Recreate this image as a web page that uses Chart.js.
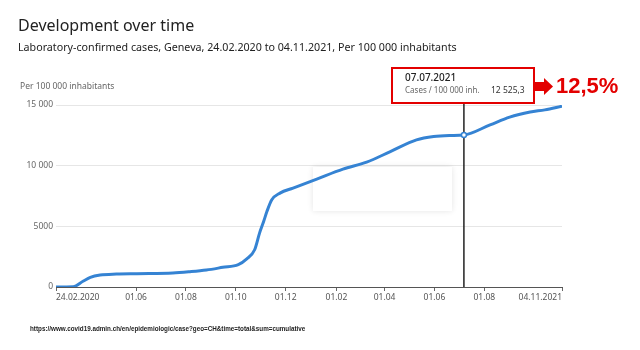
<!DOCTYPE html>
<html>
<head>
<meta charset="utf-8">
<script src="https://cdn.jsdelivr.net/npm/chart.js@4.4.1/dist/chart.umd.min.js"></script>
<style>
  body { margin: 0; background: #fff; }
  canvas { display: block; }
</style>
</head>
<body>
<canvas id="chart" width="640" height="350"></canvas>
<script>
// days since 24.02.2020 and cumulative cases per 100 000 inhabitants
const dayOffsets = [0, 21, 33, 42, 54, 74, 99, 143, 164, 184, 204, 223, 233, 243, 249, 254, 258, 264, 274, 290, 319, 351, 380, 409, 441, 462, 482, 499, 531, 555, 580, 598, 619];
const casesPer100k = [0, 20, 470, 800, 990, 1070, 1100, 1150, 1260, 1400, 1620, 1840, 2300, 3070, 4440, 5400, 6220, 7190, 7740, 8150, 8890, 9710, 10290, 11160, 12120, 12400, 12480, 12525.3, 13360, 14000, 14420, 14600, 14900];

const tickDays = [0, 98, 159, 220, 281, 343, 402, 463, 524, 619];
const tickLabels = ["24.02.2020", "01.06", "01.08", "01.10", "01.12", "01.02", "01.04", "01.06", "01.08", "04.11.2021"];
const yTicks = [0, 5000, 10000, 15000];

const markerDay = 499;
const markerDate = "07.07.2021";
const markerValue = 12525.3;
const markerLabel = "12 525,3";
const changeText = "12,5%";

const font = "'Noto Sans', 'Open Sans', sans-serif";
const blue = "#3583d3";
const red = "#e30000";

function fmtThousands(v) {
  if (v < 10000) return String(v);
  return String(v).replace(/\B(?=(\d{3})+(?!\d))/g, " ");
}

// page texts, the ghost tooltip box and the red callout
const decorations = {
  id: "decorations",
  beforeDatasetsDraw(chart) {
    const c = chart.ctx;
    c.save();
    c.shadowColor = "rgba(0,0,0,0.11)";
    c.shadowBlur = 6;
    c.fillStyle = "#fff";
    c.fillRect(313, 167, 139, 44);
    c.restore();
  },
  afterDraw(chart) {
    const c = chart.ctx;
    const x = chart.scales.x;
    const y = chart.scales.y;
    const area = chart.chartArea;
    c.save();
    c.textBaseline = "alphabetic";
    c.fillStyle = "#222";
    c.font = "16px " + font;
    c.fillText("Development over time", 18, 31);
    c.font = "10.7px " + font;
    c.fillText("Laboratory-confirmed cases, Geneva, 24.02.2020 to 04.11.2021, Per 100 000 inhabitants", 18, 51);
    c.fillStyle = "#666";
    c.font = "8.5px " + font;
    c.fillText("Per 100 000 inhabitants", 20, 89);

    // marker line and point
    const px = x.getPixelForValue(markerDay);
    const py = y.getPixelForValue(markerValue);
    c.strokeStyle = "#222";
    c.lineWidth = 1.5;
    c.beginPath();
    c.moveTo(px, 103);
    c.lineTo(px, area.bottom);
    c.stroke();
    c.fillStyle = "#fff";
    c.strokeStyle = blue;
    c.lineWidth = 1.5;
    c.beginPath();
    c.arc(px, py, 2.5, 0, Math.PI * 2);
    c.fill();
    c.stroke();

    // tooltip box
    c.fillStyle = "#fff";
    c.fillRect(392, 68, 142, 35);
    c.strokeStyle = red;
    c.lineWidth = 2;
    c.strokeRect(392, 68, 142, 35);
    c.fillStyle = "#222";
    c.font = "500 10px " + font;
    c.fillText(markerDate, 405, 81);
    c.fillStyle = "#666";
    c.font = "8px " + font;
    c.fillText("Cases / 100 000 inh.", 405, 93);
    c.fillStyle = "#333";
    c.font = "8.5px " + font;
    c.fillText(markerLabel, 491, 93);

    // arrow and percentage
    c.fillStyle = red;
    c.fillRect(535, 82, 10, 9);
    c.beginPath();
    c.moveTo(544, 78);
    c.lineTo(553, 86.5);
    c.lineTo(544, 95);
    c.closePath();
    c.fill();
    c.font = "bold 22px 'Liberation Sans', Arial, sans-serif";
    c.textBaseline = "middle";
    c.fillText(changeText, 556, 87);

    c.textBaseline = "alphabetic";
    c.fillStyle = "#222";
    c.font = "600 6.3px 'Liberation Sans', Arial, sans-serif";
    c.fillText("https://www.covid19.admin.ch/en/epidemiologic/case?geo=CH&time=total&sum=cumulative", 30, 331);
    c.restore();
  }
};

const ctx = document.querySelector("#chart").getContext("2d");

const myChart = new Chart(ctx, {
  type: "line",
  data: {
    datasets: [
      {
        label: "Cases / 100 000 inh.",
        data: dayOffsets.map((d, i) => ({ x: d, y: casesPer100k[i] })),
        borderColor: blue,
        borderWidth: 3,
        pointRadius: 0,
        fill: false,
        cubicInterpolationMode: "monotone",
      },
    ],
  },
  options: {
    responsive: false,
    animation: false,
    devicePixelRatio: 1,
    layout: { padding: { top: 105, right: 78, left: 0, bottom: 0 } },
    plugins: { legend: { display: false }, tooltip: { enabled: false } },
    scales: {
      x: {
        type: "linear",
        min: 0,
        max: 619,
        afterFit: (scale) => { scale.height = 63; },
        afterBuildTicks: (scale) => { scale.ticks = tickDays.map((v) => ({ value: v })); },
        grid: { drawOnChartArea: false, drawTicks: true, tickLength: 4, color: "#666" },
        border: { color: "#555", width: 1 },
        ticks: {
          autoSkip: false,
          maxRotation: 0,
          align: "inner",
          padding: 1,
          color: "#555",
          font: { family: font, size: 8.5 },
          callback: function (value, index) {
            return tickLabels[index];
          },
        },
      },
      y: {
        min: 0,
        max: 15000,
        afterFit: (scale) => { scale.width = 56; },
        afterBuildTicks: (scale) => { scale.ticks = yTicks.map((v) => ({ value: v })); },
        grid: { color: "#e6e6e6", drawTicks: false },
        border: { display: false },
        ticks: {
          padding: 3,
          color: "#666",
          font: { family: font, size: 8.5 },
          callback: (value) => fmtThousands(value),
        },
      },
    },
  },
  plugins: [decorations],
});
</script>
</body>
</html>
